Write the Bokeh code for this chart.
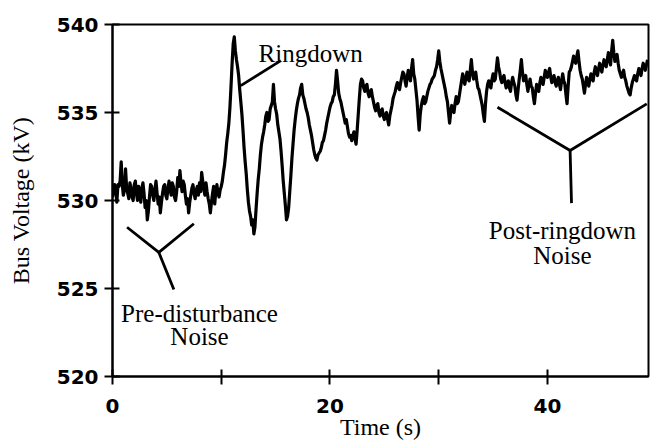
import numpy as np
from bokeh.plotting import figure
from bokeh.models import Range1d, FixedTicker, Label, ColumnDataSource
from bokeh.embed import file_html
from bokeh.resources import INLINE

# Sample interval of the recorded trace (s)
dt = 0.1

# Bus voltage samples (kV), at t = 0.0, 0.2, 0.4, ...
voltage = [
    530.2, 530.9, 529.9, 530.8, 532.2, 530.3, 531.8, 530.4, 531.0, 530.2,
    530.9, 530.4, 530.8, 529.9, 531.0, 529.6, 528.9, 530.2, 530.8, 530.0,
    531.1, 529.8, 529.3, 530.4, 530.9, 530.1, 531.1, 530.3, 530.8, 530.0,
    531.3, 531.7, 530.5, 530.9, 529.8, 529.3, 530.3, 530.9, 530.1, 530.8,
    531.0, 531.6, 530.6, 531.0, 530.1, 529.3, 530.4, 529.8, 530.9, 530.2,
    530.8, 531.6, 532.6, 533.8, 535.3, 537.8, 539.3, 538.0, 537.1, 535.6,
    534.0, 532.2, 530.6, 529.4, 528.6, 528.1, 529.5, 531.2, 532.6, 533.6,
    534.3, 535.0, 534.6, 535.4, 536.6, 535.2, 534.3, 533.5, 532.0, 530.4,
    528.9, 529.6, 531.4, 533.2, 534.6, 535.5, 536.0, 536.6, 535.8, 535.2,
    534.7, 534.0, 533.3, 532.6, 532.3, 532.7, 533.0, 533.4, 534.0, 534.7,
    535.3, 535.6, 536.0, 537.4, 536.1, 535.6, 535.0, 534.4, 534.2, 533.6,
    533.4, 533.9, 533.2, 534.9, 536.6, 536.8, 536.2, 536.6, 535.9, 536.3,
    535.6, 535.1, 535.5, 534.8, 535.2, 534.6, 535.0, 534.3, 535.1, 535.8,
    536.2, 536.7, 536.3, 537.0, 537.2, 536.5, 537.4, 536.8, 538.0, 536.9,
    535.7, 534.0, 535.4, 535.9, 535.6, 536.2, 536.6, 536.9, 537.1, 537.6,
    538.5, 537.5, 536.9, 536.3, 535.6, 534.4, 535.4, 535.0, 535.9, 535.6,
    536.4, 537.2, 536.6, 537.3, 536.8, 538.0, 536.9, 537.3, 536.4, 536.0,
    535.4, 534.5, 536.2, 536.8, 536.4, 537.2, 536.9, 538.1, 537.3, 536.7,
    537.1, 536.4, 536.8, 536.2, 537.0, 536.5, 535.7, 536.9, 538.0, 536.8,
    537.1, 536.2, 536.9, 536.4, 535.5, 536.6, 536.2, 537.0, 536.6, 537.4,
    537.0, 537.5, 536.7, 537.1, 536.5, 537.0, 536.3, 537.2, 536.6, 535.5,
    537.3, 537.6, 538.2, 537.8, 538.5, 537.4, 536.9, 536.1, 537.0, 536.5,
    537.2, 536.8, 537.6, 537.1, 537.8, 537.3, 538.0, 537.6, 538.4, 537.7,
    539.1, 537.9, 538.3, 537.4, 537.0, 537.4, 536.8, 536.3, 536.0, 536.7,
    537.1, 536.8, 537.5, 537.1, 537.8, 537.4, 538.0,
]

# Bus voltage samples (kV) in between, at t = 0.1, 0.3, 0.5, ...
voltage_half = [
    530.6, 530.5, 530.9, 531.1, 530.9, 530.6, 530.7, 530.1, 530.7, 530.0,
    531.1, 530.0, 530.5, 530.7, 530.4, 530.0, 529.4, 530.9, 530.3, 530.6,
    530.4, 530.2, 529.9, 530.8, 530.3, 530.7, 530.6, 531.0, 530.2, 530.5,
    530.8, 531.0, 531.1, 530.3, 530.1, 529.9, 530.7, 530.4, 530.6, 530.3,
    530.5, 531.1, 530.3, 530.5, 529.8, 529.9, 530.8, 530.5, 530.4, 530.6,
    531.1, 532.0, 533.3, 534.4, 536.5, 538.9, 538.5, 537.6, 536.3, 534.9,
    533.0, 531.5, 529.9, 529.1, 528.9, 528.5, 530.4, 531.8, 533.2, 533.9,
    534.8, 534.5, 535.2, 535.6, 535.6, 534.9, 533.9, 532.8, 531.1, 529.7,
    529.1, 530.5, 532.4, 534.0, 535.1, 535.8, 536.4, 536.0, 535.5, 535.0,
    534.3, 533.7, 532.9, 532.4, 532.6, 532.8, 533.3, 533.7, 534.4, 535.0,
    535.5, 535.9, 536.6, 536.8, 535.8, 535.3, 534.7, 534.6, 533.8, 533.7,
    533.7, 533.5, 534.0, 535.8, 536.9, 536.4, 536.5, 536.1, 536.2, 535.9,
    535.3, 535.4, 535.0, 535.1, 534.8, 534.9, 534.6, 534.8, 535.4, 536.0,
    536.5, 536.4, 536.7, 537.3, 536.8, 537.0, 537.0, 537.5, 537.2, 536.3,
    534.8, 534.9, 535.7, 535.5, 535.9, 536.4, 536.7, 537.0, 537.4, 538.0,
    537.9, 537.2, 536.6, 535.9, 535.0, 535.0, 535.1, 535.5, 535.5, 536.0,
    536.8, 536.8, 537.0, 536.9, 537.4, 537.3, 537.1, 536.8, 536.3, 535.7,
    534.9, 535.5, 536.6, 536.5, 536.9, 536.8, 537.5, 537.6, 536.9, 537.0,
    536.7, 536.7, 536.4, 536.7, 536.7, 536.0, 536.3, 537.4, 537.3, 537.0,
    536.6, 536.6, 536.5, 535.9, 536.1, 536.3, 536.7, 536.7, 537.0, 537.1,
    537.3, 537.0, 536.9, 536.7, 536.8, 536.6, 536.8, 536.8, 536.0, 536.5,
    537.4, 537.9, 537.9, 538.2, 537.9, 537.1, 536.5, 536.6, 536.7, 536.9,
    536.9, 537.3, 537.3, 537.5, 537.5, 537.7, 537.7, 538.0, 538.0, 538.5,
    538.4, 538.1, 537.8, 537.2, 537.2, 537.0, 536.5, 536.1, 536.4, 536.9,
    536.9, 537.2, 537.3, 537.5, 537.6, 537.7,
]

trace = np.empty(len(voltage) + len(voltage_half))
trace[0::2] = voltage
trace[1::2] = voltage_half
time = np.arange(len(trace)) * dt

x_ticks = [0, 10, 20, 30, 40]
x_tick_labels = {10: "", 30: ""}
y_ticks = [520, 525, 530, 535, 540]

src = ColumnDataSource(data=dict(t=time, v=trace))

p = figure(width=652, height=447, output_backend="svg", toolbar_location=None,
           x_range=Range1d(0, 49.29), y_range=Range1d(520, 540),
           min_border_left=112, min_border_right=4, min_border_top=24,
           min_border_bottom=71, background_fill_color="white",
           border_fill_color="white")
p.grid.visible = False
p.outline_line_color = "black"
p.outline_line_width = 2

serif = "Liberation Serif"
sans = "DejaVu Sans"

for ax in (p.xaxis[0], p.yaxis[0]):
    ax.axis_line_width = 2
    ax.axis_line_color = "black"
    ax.major_tick_line_width = 2
    ax.major_tick_line_color = "black"
    ax.minor_tick_line_color = None
    ax.major_tick_in = 7
    ax.major_tick_out = 8
    ax.major_label_text_font = sans
    ax.major_label_text_font_size = "20px"
    ax.major_label_text_font_style = "bold"
    ax.major_label_text_color = "black"
    ax.axis_label_text_font = serif
    ax.axis_label_text_font_size = "24px"
    ax.axis_label_text_font_style = "normal"
    ax.axis_label_text_color = "black"

p.xaxis.ticker = FixedTicker(ticks=x_ticks)
p.xaxis.major_label_overrides = x_tick_labels
p.xaxis.major_label_standoff = 14
p.xaxis.axis_label = "Time (s)"
p.xaxis.axis_label_standoff = -2

p.yaxis.ticker = FixedTicker(ticks=y_ticks)
p.yaxis.major_label_standoff = 6
p.yaxis.axis_label = "Bus Voltage (kV)"
p.yaxis.axis_label_standoff = 20

p.line("t", "v", source=src, line_color="black", line_width=3.2,
       line_join="round")

# Annotation leader lines
lw = 2.8
p.line([15.48, 11.8], [537.95, 536.53], line_color="black", line_width=lw)
p.line([1.34, 4.26, 7.48], [528.48, 527.05, 528.68], line_color="black", line_width=lw)
p.line([4.26, 5.64], [527.05, 524.94], line_color="black", line_width=lw)
p.line([35.40, 42.08, 49.13], [535.30, 532.84, 535.49], line_color="black", line_width=lw)
p.line([42.08, 42.21], [532.84, 529.85], line_color="black", line_width=lw)

def lab(x, y, txt, align):
    p.add_layout(Label(x=x, y=y, text=txt, text_align=align,
                       text_baseline="alphabetic", text_font=serif,
                       text_font_size="25px", text_color="black"))

lab(13.43, 538.35, "Ringdown", "left")
lab(8.0, 523.58, "Pre-disturbance", "center")
lab(8.0, 522.27, "Noise", "center")
lab(41.38, 528.30, "Post-ringdown", "center")
lab(41.38, 526.88, "Noise", "center")

open("out.html", "w").write(file_html(p, INLINE))
